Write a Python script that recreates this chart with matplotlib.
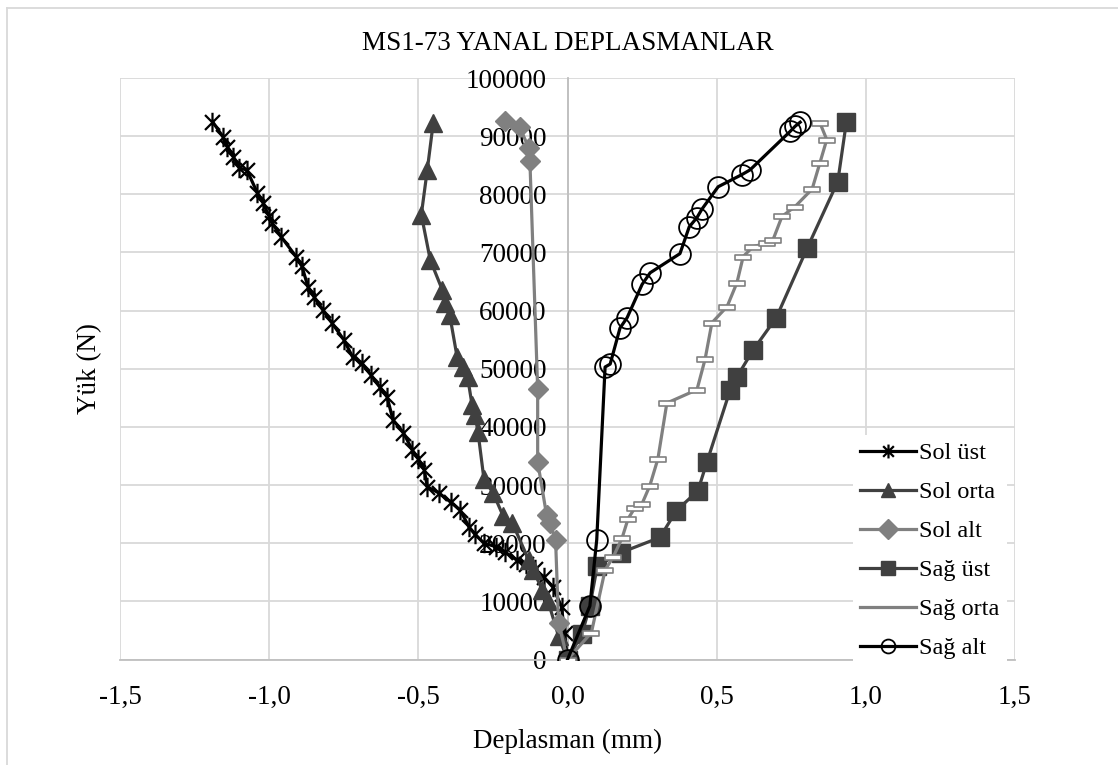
import matplotlib
matplotlib.use("Agg")
import matplotlib.pyplot as plt
from matplotlib.path import Path
from matplotlib.lines import Line2D
from matplotlib.ticker import FuncFormatter

plt.rcParams['font.family'] = ['Liberation Serif', 'DejaVu Serif']

# Lateral displacement (mm) and load (N) for each gauge
sol_ust_x = [0.0, -0.01, -0.02, -0.05, -0.08, -0.11, -0.14, -0.17, -0.21, -0.24, -0.28, -0.31,
             -0.33, -0.36, -0.39, -0.43, -0.47, -0.48, -0.50, -0.52, -0.55, -0.585, -0.605,
             -0.63, -0.66, -0.69, -0.72, -0.75, -0.79, -0.82, -0.85, -0.87, -0.89, -0.91,
             -0.96, -0.99, -1.00, -1.02, -1.04, -1.075, -1.10, -1.12, -1.14, -1.155, -1.19]
sol_ust_y = [0, 4500, 9100, 12500, 14200, 15500, 16500, 17100, 18500, 19400, 20000, 21500,
             22800, 25700, 27000, 28600, 29700, 32600, 34500, 36000, 39000, 41200, 45200,
             46900, 49000, 51000, 52000, 55000, 57900, 60100, 62400, 64100, 67600, 69300,
             72700, 75100, 76200, 78500, 80300, 84200, 84500, 86500, 88200, 89900, 92500]

sol_orta_x = [0.0, -0.03, -0.065, -0.085, -0.115, -0.13, -0.185, -0.215, -0.25, -0.28, -0.30,
              -0.31, -0.32, -0.335, -0.35, -0.37, -0.395, -0.41, -0.42, -0.46, -0.49, -0.47, -0.45]
sol_orta_y = [0, 4000, 10000, 12000, 15400, 17100, 23500, 24600, 28700, 31000, 39100,
              42100, 43800, 48600, 50300, 52000, 59300, 61300, 63600, 68700, 76500, 84200, 92300]

sol_alt_x = [0.0, -0.03, -0.04, -0.06, -0.07, -0.10, -0.10, -0.126, -0.13, -0.16, -0.21]
sol_alt_y = [0, 6300, 20600, 23500, 24800, 34000, 46500, 85700, 88000, 91500, 92600]

sag_ust_x = [0.0, 0.048, 0.075, 0.10, 0.18, 0.31, 0.365, 0.437, 0.467, 0.545, 0.568,
             0.622, 0.70, 0.803, 0.906, 0.935]
sag_ust_y = [0, 4300, 9200, 16100, 18400, 21000, 25600, 29000, 33900, 46300, 48600,
             53200, 58800, 70700, 82200, 92500]

sag_orta_x = [0.0, 0.08, 0.126, 0.153, 0.183, 0.203, 0.226, 0.25, 0.276, 0.303, 0.333,
              0.434, 0.461, 0.484, 0.535, 0.568, 0.589, 0.622, 0.668, 0.689, 0.719, 0.763,
              0.82, 0.846, 0.869, 0.846]
sag_orta_y = [0, 4600, 15400, 17600, 20900, 24200, 26100, 26800, 29900, 34500, 44100,
              46400, 51600, 57900, 60700, 64800, 69300, 71000, 71600, 72200, 76200, 77900,
              80900, 85400, 89400, 92300]

sag_alt_x = [0.0, 0.075, 0.098, 0.126, 0.143, 0.176, 0.20, 0.25, 0.277, 0.377, 0.408,
             0.434, 0.45, 0.505, 0.585, 0.612, 0.746, 0.763, 0.78]
sag_alt_y = [0, 9200, 20600, 50300, 50800, 57000, 58800, 64500, 66500, 69800, 74400,
             76000, 77400, 81300, 83400, 84200, 90800, 91700, 92400]

series_labels = ["Sol üst", "Sol orta", "Sol alt", "Sağ üst", "Sağ orta", "Sağ alt"]
x_ticks = [-1.5, -1.0, -0.5, 0.0, 0.5, 1.0, 1.5]
y_ticks = list(range(0, 100001, 10000))

# Custom markers: asterisk (X plus vertical bar) and a flat dash box
star = Path([(-1, -1), (1, 1), (-1, 1), (1, -1), (0, -1.3), (0, 1.3)],
            [Path.MOVETO, Path.LINETO, Path.MOVETO, Path.LINETO, Path.MOVETO, Path.LINETO])
dash = Path([(-1, -0.3), (1, -0.3), (1, 0.3), (-1, 0.3), (-1, -0.3)],
            [Path.MOVETO, Path.LINETO, Path.LINETO, Path.LINETO, Path.CLOSEPOLY])

W, H = 1118, 765
fig = plt.figure(figsize=(W / 100, H / 100), dpi=100)
ax = fig.add_axes([120 / W, 1 - 659.5 / H, 895 / W, (659.5 - 78) / H])

dark = '#404040'
gray = '#808080'
FS = 19.5

styles = [
    dict(color='black', lw=2.3, marker=star, ms=14, mec='black', mfc='none', mew=1.6),
    dict(color=dark, lw=2.3, marker='^', ms=13, mec=dark, mfc=dark),
    dict(color=gray, lw=2.3, marker='D', ms=10, mec=gray, mfc=gray),
    dict(color=dark, lw=2.3, marker='s', ms=13.5, mec=dark, mfc=dark),
    dict(color=gray, lw=2.3, marker=dash, ms=12, mec=gray, mfc='white', mew=1.2),
    dict(color='black', lw=2.3, marker='o', ms=15, mec='black', mfc='none', mew=1.3),
]
series = [(sol_ust_x, sol_ust_y), (sol_orta_x, sol_orta_y), (sol_alt_x, sol_alt_y),
          (sag_ust_x, sag_ust_y), (sag_orta_x, sag_orta_y), (sag_alt_x, sag_alt_y)]

handles = []
for (xs, ys), lab, st in zip(series, series_labels, styles):
    ax.plot(xs, ys, label=lab, zorder=3, **st)
    hs = dict(st)
    if lab == "Sağ orta":
        hs.pop('marker')
    else:
        hs['ms'] = min(hs['ms'], 10)
    handles.append(Line2D([], [], **hs))

ax.set_xlim(-1.5, 1.5)
ax.set_ylim(0, 100000)
ax.set_xticks(x_ticks)
ax.set_yticks(y_ticks)
ax.xaxis.set_major_formatter(FuncFormatter(lambda v, p: f"{v:.1f}".replace('.', ',')))
ax.yaxis.set_major_formatter(FuncFormatter(lambda v, p: f"{int(v)}"))

ax.grid(True, color='#d9d9d9', lw=1.3)
ax.set_axisbelow(True)
for s in ['top', 'right']:
    ax.spines[s].set_visible(False)
ax.spines['left'].set_position(('data', 0))
ax.spines['left'].set_color('#bfbfbf')
ax.spines['bottom'].set_color('#bfbfbf')
ax.spines['left'].set_linewidth(1.3)
ax.spines['bottom'].set_linewidth(1.3)
ax.tick_params(axis='both', length=0, labelsize=FS)
ax.tick_params(axis='y', pad=15)
ax.tick_params(axis='x', pad=18)

ax.set_xlabel("Deplasman (mm)", fontsize=FS, labelpad=14)
ax.set_ylabel("Yük (N)", fontsize=FS)
ax.yaxis.set_label_coords((102 - 120) / 895, 0.5)
fig.text(567.5 / W, 1 - 43 / H, "MS1-73 YANAL DEPLASMANLAR", fontsize=FS,
         ha='center', va='center')

leg = ax.legend(handles, series_labels, loc='upper left',
                bbox_to_anchor=((853 - 120) / 895, (659.5 - 435) / 581.5),
                frameon=True, fontsize=17.5, handlelength=2.3, handletextpad=0.12,
                labelspacing=0.7, borderpad=0.3, borderaxespad=0)
leg.get_frame().set_edgecolor('none')
leg.get_frame().set_facecolor('white')
leg.get_frame().set_alpha(1)

# Chart area border
fig.add_artist(Line2D([7 / W, 7 / W], [0, 1 - 8 / H], color='#d9d9d9', lw=1.3))
fig.add_artist(Line2D([7 / W, 1], [1 - 8 / H, 1 - 8 / H], color='#d9d9d9', lw=1.3))

fig.savefig("out.png", dpi=100)
